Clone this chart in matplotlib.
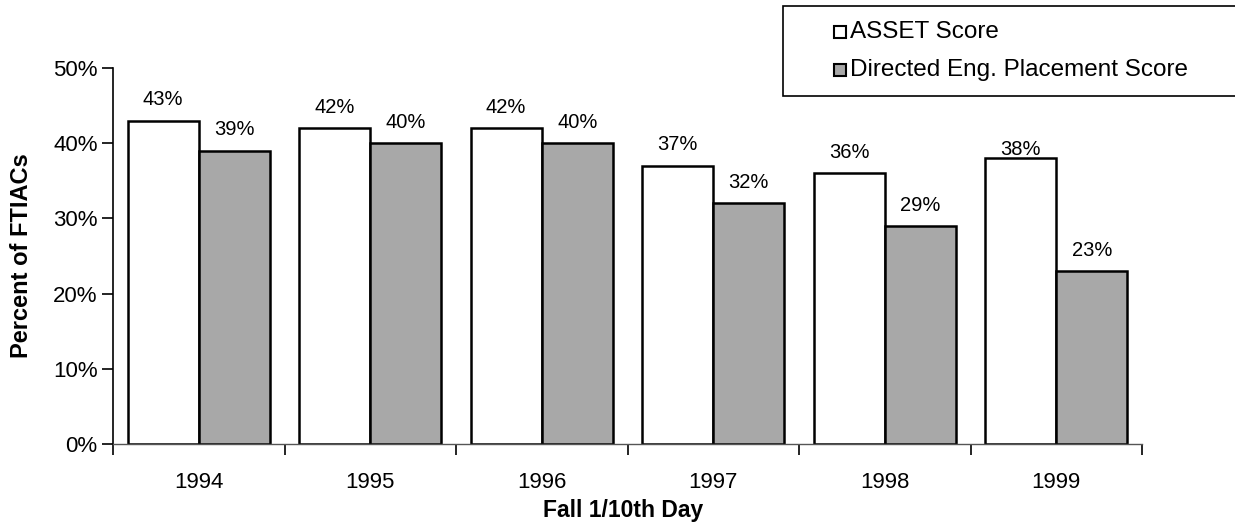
import numpy as np
import matplotlib.pyplot as plt
from matplotlib.patches import Rectangle

# Podaci
years = ["1994", "1995", "1996", "1997", "1998", "1999"]
asset = [43, 42, 42, 37, 36, 38]
directed = [39, 40, 40, 32, 29, 23]
series_names = ["ASSET Score", "Directed Eng. Placement Score"]

plt.rcParams['font.family'] = ['Liberation Sans', 'DejaVu Sans']

W, H = 1235, 529
fig = plt.figure(figsize=(W / 100, H / 100), dpi=100)
ax = fig.add_axes([113 / W, 1 - 444 / H, (1142 - 113) / W, (444 - 68) / H])

x = np.arange(len(years))
bw = 0.415
gray = '#a8a8a8'
b1 = ax.bar(x - bw / 2, asset, bw, color='white', edgecolor='black', linewidth=1.8)
b2 = ax.bar(x + bw / 2, directed, bw, color=gray, edgecolor='black', linewidth=1.8)

# Oznake iznad stubova
for bars, vals in ((b1, asset), (b2, directed)):
    for rect, v in zip(bars, vals):
        ax.annotate(f"{v}%", (rect.get_x() + rect.get_width() / 2, v),
                    xytext=(0, 15), textcoords='offset points',
                    ha='center', va='center', fontsize=14.5)
# 1999 ASSET oznaka je u originalu odmah na vrhu stuba
ax.texts[5].set_position((0, 6))

ax.set_xlim(-0.5, len(years) - 0.5)
ax.set_ylim(0, 50)
ax.set_yticks(np.arange(0, 51, 10))
ax.set_yticklabels([f"{v}%" for v in range(0, 51, 10)], fontsize=16)
ax.set_xticks(np.arange(-0.5, len(years)), minor=False)
ax.set_xticklabels([])
ax.set_xticks(x, minor=True)
ax.set_xticklabels(years, minor=True, fontsize=16)
ax.tick_params(axis='x', which='major', direction='out', length=8, width=1.2)
ax.tick_params(axis='x', which='minor', length=0, pad=20)
ax.tick_params(axis='y', direction='out', length=8, width=1.2, pad=3)

for s in ['top', 'right']:
    ax.spines[s].set_visible(False)
ax.spines['left'].set_linewidth(1.2)
ax.spines['bottom'].set_linewidth(1.0)
ax.spines['bottom'].set_color('#555555')

fig.text(22 / W, 1 - 256 / H, "Percent of FTIACs", rotation=90, ha='center', va='center',
         fontsize=17, fontweight='bold')
fig.text(623 / W, 1 - 510 / H, "Fall 1/10th Day", ha='center', va='center',
         fontsize=16.5, fontweight='bold')

# Legenda
fig.patches.append(Rectangle((783 / W, 1 - 96 / H), (W + 10 - 783) / W, 90 / H,
                             transform=fig.transFigure, facecolor='white',
                             edgecolor='black', linewidth=1.2))
for yy, fc, name in ((32, 'white', series_names[0]), (70, gray, series_names[1])):
    fig.patches.append(Rectangle((834 / W, 1 - (yy + 6) / H), 12 / W, 12 / H,
                                 transform=fig.transFigure, facecolor=fc,
                                 edgecolor='black', linewidth=1.5))
    fig.text(850 / W, 1 - yy / H, name, ha='left', va='center', fontsize=17.5)

fig.savefig("out.png", dpi=100)
